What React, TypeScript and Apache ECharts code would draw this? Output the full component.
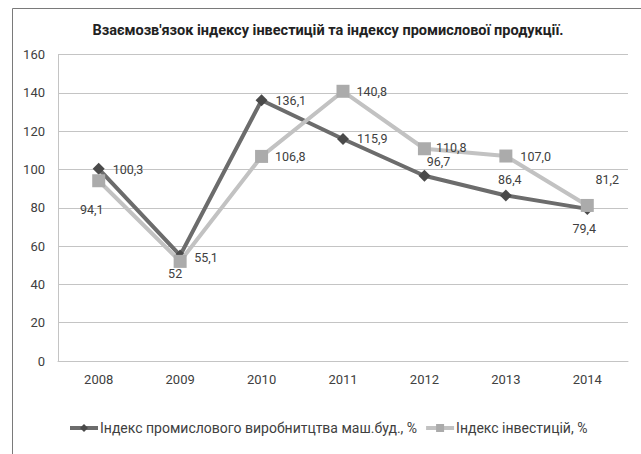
import React, { useEffect, useRef } from "react";
import * as echarts from "echarts";

const years = ["2008", "2009", "2010", "2011", "2012", "2013", "2014"];
const productionIndex = [100.3, 55.1, 136.1, 115.9, 96.7, 86.4, 79.4];
const productionLabels = ["100,3", "55,1", "136,1", "115,9", "96,7", "86,4", "79,4"];
const investmentIndex = [94.1, 52, 106.8, 140.8, 110.8, 107.0, 81.2];
const investmentLabels = ["94,1", "52", "106,8", "140,8", "110,8", "107,0", "81,2"];
const yTicks = { min: 0, max: 160, interval: 20 };

const seriesNames = [
  "Індекс промислового виробнитцтва маш.буд., %",
  "Індекс інвестицій, %",
];
const titleText = "Взаємозв'язок індексу інвестицій та індексу промислової продукції.";

// label placement (style only)
const prodPlacement: any[] = [
  { position: "right", distance: 8, offset: [0, 1] },
  { position: "right", distance: 8, offset: [0, 2] },
  { position: "right", distance: 8, offset: [0, 0] },
  { position: "right", distance: 8, offset: [0, 0] },
  { position: "top", distance: 4, offset: [14, 2] },
  { position: "top", distance: 5, offset: [4, 2] },
  { position: "bottom", distance: 5, offset: [-3, 2] },
];
const invPlacement: any[] = [
  { position: "bottom", distance: 5, offset: [-7, 11] },
  { position: "bottom", distance: 5, offset: [-5, -6] },
  { position: "right", distance: 7, offset: [0, 0] },
  { position: "right", distance: 7, offset: [0, 0] },
  { position: "right", distance: 5, offset: [0, -1] },
  { position: "right", distance: 8, offset: [0, 0] },
  { position: "top", distance: 5, offset: [20, -8] },
];

const FONT = "Roboto";
const TEXT = "#404040";
const GRID = "#C4C4C4";

export default function App() {
  const ref = useRef<HTMLDivElement>(null);
  useEffect(() => {
    document.body.style.margin = "0";
    const chart = echarts.init(ref.current!, null, { renderer: "svg" });
    const mk = (vals: number[], labels: string[], place: any[]) =>
      vals.map((v, i) => ({
        value: v,
        label: { ...place[i], formatter: labels[i] },
      }));
    chart.setOption({
      animation: false,
      backgroundColor: "#ffffff",
      textStyle: { fontFamily: FONT },
      graphic: [
        {
          type: "rect",
          shape: { x: 12.5, y: 8.5, width: 700, height: 500 },
          style: { fill: "none", stroke: "#7a7a7a", lineWidth: 1 },
          silent: true,
        },
        {
          type: "text",
          x: 328,
          y: 30,
          style: {
            text: titleText,
            align: "center",
            verticalAlign: "middle",
            font: `bold 14.5px ${FONT}`,
            fill: "#222",
          },
        },
      ],
      grid: { left: 58, right: 13, top: 54.5, bottom: 93, containLabel: false },
      xAxis: {
        type: "category",
        data: years,
        boundaryGap: true,
        axisLine: { show: true, lineStyle: { color: GRID, width: 1 } },
        axisTick: { show: false },
        axisLabel: { color: TEXT, fontSize: 13, margin: 12, fontFamily: FONT },
      },
      yAxis: {
        type: "value",
        min: yTicks.min,
        max: yTicks.max,
        interval: yTicks.interval,
        axisLine: { show: true, lineStyle: { color: GRID, width: 1 } },
        axisTick: { show: false },
        splitLine: { show: true, lineStyle: { color: GRID, width: 1 } },
        axisLabel: { color: TEXT, fontSize: 13, margin: 13, fontFamily: FONT },
      },
      legend: {
        left: 68,
        top: 421,
        padding: 0,
        itemWidth: 28,
        itemHeight: 10,
        itemGap: 7,
        lineStyle: { width: 4 },
        textStyle: { color: TEXT, fontSize: 14, fontFamily: FONT, padding: [0, 0, 0, -3] },
        data: seriesNames,
      },
      series: [
        {
          name: seriesNames[0],
          type: "line",
          data: mk(productionIndex, productionLabels, prodPlacement),
          symbol: "diamond",
          symbolSize: 12,
          lineStyle: { color: "#6c6c6c", width: 4 },
          itemStyle: { color: "#4a4a4a" },
          label: { show: true, color: TEXT, fontSize: 12.5, fontFamily: FONT },
          z: 2,
        },
        {
          name: seriesNames[1],
          type: "line",
          data: mk(investmentIndex, investmentLabels, invPlacement),
          symbol: "rect",
          symbolSize: 13,
          lineStyle: { color: "#c2c2c2", width: 4 },
          itemStyle: { color: "#ababab" },
          label: { show: true, color: TEXT, fontSize: 12.5, fontFamily: FONT },
          z: 3,
        },
      ],
    });
    return () => chart.dispose();
  }, []);
  return <div ref={ref} style={{ width: 641, height: 454 }} />;
}
